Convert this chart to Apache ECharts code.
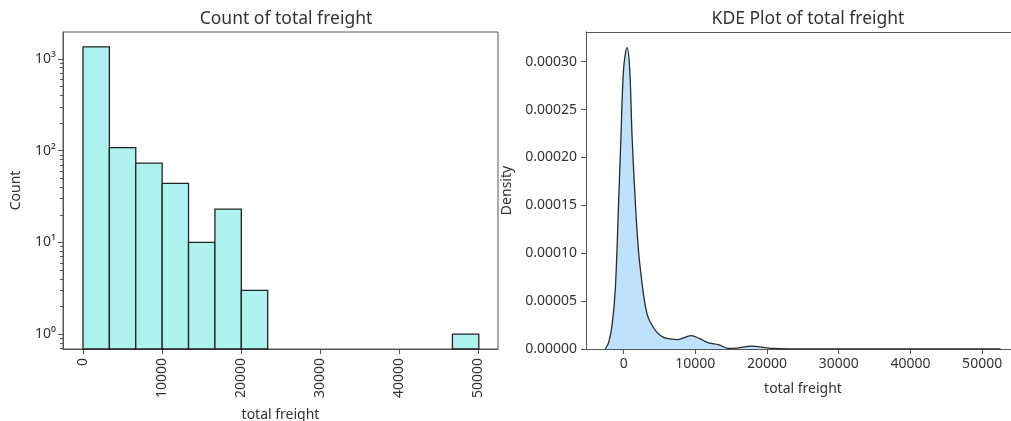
<!DOCTYPE html>
<html>
<head>
<meta charset="utf-8">
<script src="https://cdn.jsdelivr.net/npm/echarts@6/dist/echarts.min.js"></script>
<style>
    html, body { margin: 0; padding: 0; background: #fff; }
    #chart { width: 1011px; height: 421px; }
</style>
</head>
<body>
<div id="chart"></div>
<script>
    // histogram: bin edges and counts (log scale)
    var binEdges = [0, 3340, 6680, 10020, 13360, 16700, 20040, 23380, 26720, 30060, 33400, 36740, 40080, 43420, 46760, 50100]
    var binCounts = [1352, 108, 73, 44, 10, 23, 3, 0, 0, 0, 0, 0, 0, 0, 1]
    var countTicks = [1, 10, 100, 1000]
    var countMinorTicks = [0.7, 0.8, 0.9, 2, 3, 4, 5, 6, 7, 8, 9, 20, 30, 40, 50, 60, 70, 80, 90, 200, 300, 400, 500, 600, 700, 800, 900]
    var freightTicks = [0, 10000, 20000, 30000, 40000, 50000]

    // kde curve
    var kdeX = [-2553, -2090, -1620, -1160, -700, -370, 0, 470, 840, 1170, 1630, 2090, 2790, 3260, 3720, 4650, 5580, 6500, 7440, 8500, 9400, 10700, 11860, 13250, 14650, 15820, 17910, 19530, 20920, 22800, 52550]
    var kdeY = [0, 0.0000069, 0.0000244, 0.0000628, 0.0001535, 0.000223, 0.000293, 0.0003147, 0.000293, 0.000223, 0.0001535, 0.000101, 0.0000558, 0.0000366, 0.0000279, 0.0000174, 0.0000122, 0.0000105, 0.0000097, 0.000012, 0.000014, 0.0000105, 0.0000063, 0.0000045, 0.0000005, 0.000001, 0.0000031, 0.0000017, 0.0000005, 0, 0]
    var densityTicks = [0, 0.00005, 0.0001, 0.00015, 0.0002, 0.00025, 0.0003]

    var font = 'Noto Sans'
    var textColor = '#333'
    var frameColor = '#555'
    var tickFont = 14
    var countMin = 0.69
    var countMax = 1960
    var sup = ['\u2070', '\u00b9', '\u00b2', '\u00b3']

    var histData = []
    binCounts.forEach(function (c, i) {
        if (c > 0) histData.push([binEdges[i], binEdges[i + 1], c])
    })
    var kdeData = kdeX.map(function (x, i) { return [x, kdeY[i]] })

    var plain = function (v) { return String(v) }

    var myChart = echarts.init(document.getElementById('chart'))

    var option = {
        animation: false,
        textStyle: { fontFamily: font, color: textColor },
        title: [{
            text: 'Count of total freight',
            left: 281, top: 5, textAlign: 'center',
            textStyle: { fontFamily: font, fontSize: 17.5, fontWeight: 'normal', color: textColor }
        }, {
            text: 'KDE Plot of total freight',
            left: 803, top: 5, textAlign: 'center',
            textStyle: { fontFamily: font, fontSize: 17.5, fontWeight: 'normal', color: textColor }
        }],
        grid: [{
            left: 63, top: 32, width: 435, height: 317, outerBoundsMode: 'none',
            show: true, borderColor: frameColor, borderWidth: 1
        }, {
            // right spine falls outside the picture, so only top/left/bottom lines are drawn
            left: 586, top: 32, width: 434, height: 317, outerBoundsMode: 'none',
            show: false
        }],
        xAxis: [{
            type: 'value', gridIndex: 0, min: -2530, max: 52530,
            name: 'total freight', nameLocation: 'middle', nameGap: 59,
            nameTextStyle: { fontSize: tickFont, color: textColor },
            axisLine: { show: true, onZero: false, lineStyle: { color: frameColor } },
            axisTick: { show: true, length: 5, customValues: freightTicks, lineStyle: { color: frameColor } },
            axisLabel: { customValues: freightTicks, rotate: 90, fontSize: tickFont, color: textColor, margin: 9, formatter: plain },
            splitLine: { show: false }
        }, {
            type: 'value', gridIndex: 1, min: -5250, max: 55280,
            name: 'total freight', nameLocation: 'middle', nameGap: 33,
            nameTextStyle: { fontSize: tickFont, color: textColor },
            axisLine: { show: true, onZero: false, lineStyle: { color: frameColor } },
            axisTick: { show: true, length: 5, customValues: freightTicks, lineStyle: { color: frameColor } },
            axisLabel: { customValues: freightTicks, fontSize: tickFont, color: textColor, margin: 8, formatter: plain },
            splitLine: { show: false }
        }, {
            // top spine of the kde panel
            type: 'value', gridIndex: 1, position: 'top', min: -5250, max: 55280,
            axisLine: { show: true, onZero: false, lineStyle: { color: frameColor } },
            axisTick: { show: false },
            axisLabel: { show: false },
            splitLine: { show: false }
        }],
        yAxis: [{
            type: 'log', gridIndex: 0, min: countMin, max: countMax, logBase: 10,
            name: 'Count', nameLocation: 'middle', nameGap: 40,
            nameTextStyle: { fontSize: tickFont, color: textColor },
            axisLine: { show: true, onZero: false, lineStyle: { color: frameColor } },
            axisTick: { show: true, length: 5, customValues: countTicks, lineStyle: { color: frameColor } },
            axisLabel: {
                customValues: countTicks, fontSize: tickFont, color: textColor, margin: 7,
                formatter: function (v) {
                    return '10' + sup[Math.round(Math.log10(v))]
                }
            },
            splitLine: { show: false }
        }, {
            // minor ticks of the log axis
            type: 'log', gridIndex: 0, min: countMin, max: countMax, logBase: 10, position: 'left',
            axisLine: { show: false, onZero: false },
            axisTick: { show: true, length: 3, customValues: countMinorTicks, lineStyle: { color: frameColor } },
            axisLabel: { show: false },
            splitLine: { show: false }
        }, {
            type: 'value', gridIndex: 1, min: 0, max: 0.000331,
            name: 'Density', nameLocation: 'middle', nameGap: 72,
            nameTextStyle: { fontSize: tickFont, color: textColor },
            axisLine: { show: true, onZero: false, lineStyle: { color: frameColor } },
            axisTick: { show: true, length: 5, customValues: densityTicks, lineStyle: { color: frameColor } },
            axisLabel: {
                customValues: densityTicks, fontSize: tickFont, color: textColor, margin: 9,
                formatter: function (v) { return v.toFixed(5) }
            },
            splitLine: { show: false }
        }],
        series: [{
            type: 'custom',
            xAxisIndex: 0, yAxisIndex: 0,
            encode: { x: [0, 1], y: 2 },
            data: histData,
            renderItem: function (params, api) {
                var p0 = api.coord([api.value(0), api.value(2)])
                var p1 = api.coord([api.value(1), countMin])
                return {
                    type: 'rect',
                    shape: { x: p0[0], y: p0[1], width: p1[0] - p0[0], height: p1[1] - p0[1] },
                    style: { fill: '#aef2ef', stroke: '#222', lineWidth: 1.3 }
                }
            }
        }, {
            type: 'line',
            xAxisIndex: 1, yAxisIndex: 2,
            data: kdeData,
            symbol: 'none',
            smooth: 0.35,
            lineStyle: { color: '#2a2a2a', width: 1.3 },
            areaStyle: { color: '#bfe2fc', opacity: 1 }
        }]
    }

    myChart.setOption(option)
</script>
</body>
</html>
